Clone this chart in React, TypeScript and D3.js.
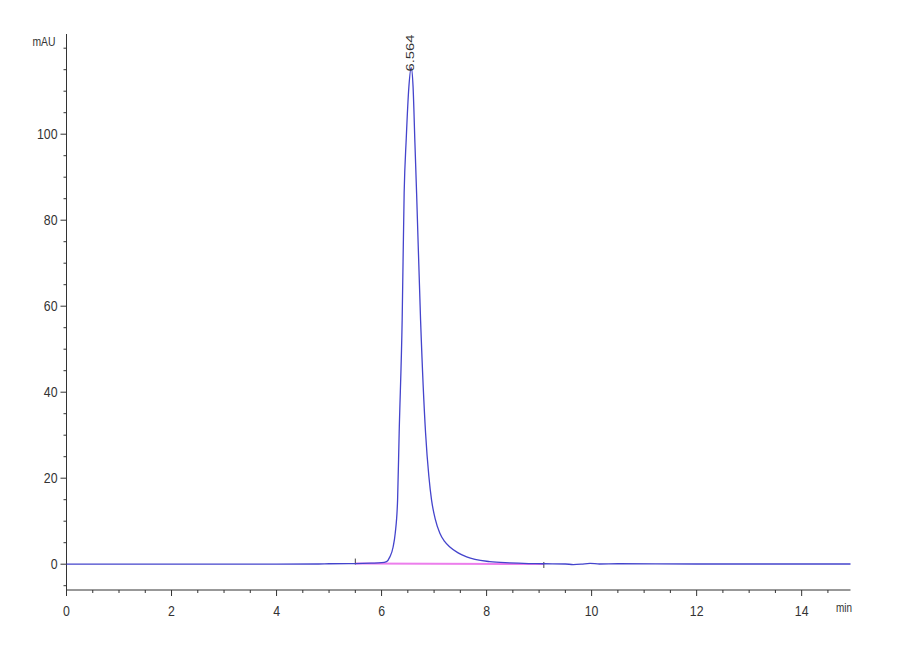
import React from 'react';
import * as d3 from 'd3';

// chromatogram trace (min, mAU)
const times = [0, 1, 2, 3, 4, 4.8, 5.0, 5.5, 5.8, 6.0, 6.095, 6.158, 6.22, 6.26, 6.305, 6.335, 6.392, 6.43, 6.47, 6.52, 6.564, 6.6, 6.635, 6.667, 6.743, 6.838, 6.9, 6.952, 7.02, 7.11, 7.2, 7.3, 7.45, 7.62, 8.06, 8.44, 8.8, 9.1, 9.5, 9.65, 9.8, 9.97, 10.15, 10.5, 12, 14, 14.93];
const signal = [0, 0, 0, 0, 0, 0.05, 0.1, 0.15, 0.25, 0.35, 0.6, 1.7, 4.0, 7.2, 14.9, 30.5, 56.7, 86.3, 99, 111, 115.5, 111, 98, 86.3, 56.7, 30.5, 20.5, 14.9, 10.6, 7.2, 5.3, 4.0, 2.7, 1.7, 0.6, 0.3, 0.15, 0.1, 0.05, -0.08, 0.0, 0.2, 0.05, 0.1, 0.05, 0.05, 0.05];

// integration baseline
const baseTimes = [5.5, 9.09];
const baseValues = [0.15, 0.05];

const peakTime = 6.564;
const peakLabel = '6.564';

const xMajor = [0, 2, 4, 6, 8, 10, 12, 14];
const yMajor = [0, 20, 40, 60, 80, 100];

const W = 900;
const H = 660;
const font = '"Liberation Sans", Arial, sans-serif';
const axisColor = '#333';

const App: React.FC = () => {
  const x = d3.scaleLinear().domain([0, 14.93]).range([66.5, 850.5]);
  const y = d3.scaleLinear().domain([-6, 123.3]).range([590, 34]);

  const pts = times.map((t, i) => ({ t, v: signal[i] }));
  const line = d3.line<{ t: number; v: number }>()
    .x(d => x(d.t))
    .y(d => y(d.v))
    .curve(d3.curveMonotoneX);

  const xMinor = d3.range(0, 15, 0.5).filter(v => !xMajor.includes(v));
  const yMinor = d3.range(-5, 121, 5).filter(v => !yMajor.includes(v));
  const peakVal = signal[times.indexOf(peakTime)];

  return (
    <svg width={W} height={H} style={{ position: 'absolute', left: 0, top: 0, background: '#fff' }}>
      {/* axes */}
      <line x1={x(0)} x2={x(0)} y1={y(123.3)} y2={y(-6) + 1} stroke={axisColor} />
      <line x1={x(0)} x2={x(14.93)} y1={y(-6)} y2={y(-6)} stroke={axisColor} />

      {yMinor.map(v => (
        <line key={'ym' + v} x1={x(0) - 3} x2={x(0)} y1={y(v)} y2={y(v)} stroke={axisColor} />
      ))}
      {yMajor.map(v => (
        <g key={'yM' + v} transform={`translate(${x(0) - 9},${y(v)}) scale(0.88,1)`}>
          <text dy="0.36em" textAnchor="end" fontSize={14} fontFamily={font} fill="#333">
            {v}
          </text>
        </g>
      ))}
      {yMajor.map(v => (
        <line key={'yt' + v} x1={x(0) - 6} x2={x(0)} y1={y(v)} y2={y(v)} stroke={axisColor} />
      ))}
      <text
        x={x(0) - 11}
        y={y(120) - 2}
        textAnchor="end"
        fontSize={13}
        fontFamily={font}
        fill="#333"
        textLength={23}
        lengthAdjust="spacingAndGlyphs"
      >
        mAU
      </text>

      {xMinor.map(v => (
        <line key={'xm' + v} x1={x(v)} x2={x(v)} y1={y(-6)} y2={y(-6) + 3} stroke={axisColor} />
      ))}
      {xMajor.map(v => (
        <g key={'xM' + v}>
          <line x1={x(v)} x2={x(v)} y1={y(-6)} y2={y(-6) + 6} stroke={axisColor} />
          <g transform={`translate(${x(v)},${y(-6) + 26}) scale(0.88,1)`}>
            <text textAnchor="middle" fontSize={14} fontFamily={font} fill="#333">
              {v}
            </text>
          </g>
        </g>
      ))}
      <text x={836} y={y(-6) + 22} fontSize={12} fontFamily={font} fill="#333" textLength={16} lengthAdjust="spacingAndGlyphs">
        min
      </text>

      {/* integration baseline */}
      <line
        x1={x(baseTimes[0])}
        x2={x(baseTimes[1])}
        y1={y(baseValues[0])}
        y2={y(baseValues[1])}
        stroke="#ec7eec"
        strokeWidth={2}
      />
      <line x1={x(baseTimes[0])} x2={x(baseTimes[0])} y1={y(baseValues[0]) - 5} y2={y(baseValues[0]) + 1} stroke="#444" />
      <line x1={x(baseTimes[1])} x2={x(baseTimes[1])} y1={y(baseValues[1]) - 2} y2={y(baseValues[1]) + 4} stroke="#444" />

      {/* trace */}
      <path d={line(pts) || ''} fill="none" stroke="#4444cc" strokeWidth={1.3} />

      {/* peak label */}
      <text
        transform={`translate(${x(peakTime) + 3},${y(peakVal) + 4}) rotate(-90)`}
        fontSize={10}
        fontFamily={font}
        fill="#333"
        textLength={37}
        lengthAdjust="spacingAndGlyphs"
      >
        {peakLabel}
      </text>
    </svg>
  );
};

export default App;
